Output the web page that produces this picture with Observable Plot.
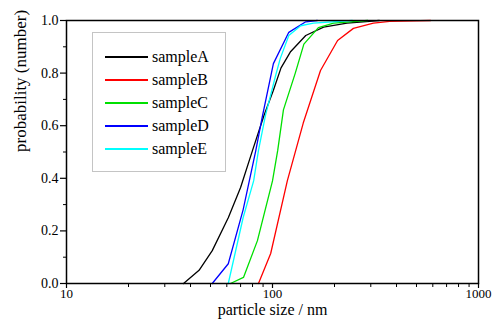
<!DOCTYPE html>
<html>
<head>
<meta charset="utf-8">
<script src="https://cdn.jsdelivr.net/npm/d3@7"></script>
<script src="https://cdn.jsdelivr.net/npm/@observablehq/plot@0.6"></script>
<style>
  body { margin: 0; background: #fff; }
  #wrap { position: relative; width: 495px; height: 325px; }
  #legend { position: absolute; left: 92px; top: 32px; width: 134px; height: 140px;
    border: 1.5px solid #c4c4c4; background: #fff; box-sizing: border-box;
    font-family: "Liberation Serif", "Times New Roman", "DejaVu Serif", serif; font-size: 16px; color: #000; }
  .row { position: absolute; left: 0; height: 20px; display: flex; align-items: center; }
  .sw { display: inline-block; width: 43px; height: 1.5px; margin-left: 12px; margin-right: 4px; }
</style>
</head>
<body>
<div id="wrap"></div>
<script>
const seriesNames = ["sampleA", "sampleB", "sampleC", "sampleD", "sampleE"];
const seriesColors = ["#000000", "#ff0000", "#00e000", "#0000ff", "#00ffff"];

const sampleA_x = [37, 44, 51, 61, 70, 80, 91, 101, 110, 122, 145, 177, 230, 330];
const sampleA_y = [0, 0.05, 0.125, 0.25, 0.365, 0.506, 0.64, 0.735, 0.82, 0.88, 0.943, 0.975, 0.99, 1.0];

const sampleB_x = [85.5, 98, 118, 141, 171, 207, 247, 309, 370, 585];
const sampleB_y = [0, 0.114, 0.39, 0.61, 0.81, 0.924, 0.97, 0.99, 0.997, 1.0];

const sampleC_x = [62.5, 72.3, 84.5, 100, 106, 113, 129, 142, 167, 198, 290];
const sampleC_y = [0, 0.023, 0.163, 0.39, 0.506, 0.66, 0.80, 0.91, 0.973, 0.99, 1.0];

const sampleD_x = [51, 61, 72, 83, 89, 101, 120, 145, 165];
const sampleD_y = [0, 0.075, 0.28, 0.506, 0.63, 0.836, 0.955, 0.995, 1.0];

const sampleE_x = [61, 72, 81, 85.5, 92.5, 103.5, 109, 120, 137, 158, 244];
const sampleE_y = [0, 0.25, 0.39, 0.506, 0.64, 0.79, 0.855, 0.943, 0.98, 0.99, 1.0];

const xMajorTicks = [10, 100, 1000];
const xMinorTicks = [20, 30, 40, 50, 60, 70, 80, 90, 200, 300, 400, 500, 600, 700, 800, 900];
const yMajorTicks = [0, 0.2, 0.4, 0.6, 0.8, 1.0];
const yMinorTicks = [0.1, 0.3, 0.5, 0.7, 0.9];

const xs = [sampleA_x, sampleB_x, sampleC_x, sampleD_x, sampleE_x];
const ys = [sampleA_y, sampleB_y, sampleC_y, sampleD_y, sampleE_y];

const lineMarks = seriesNames.map((name, i) =>
  Plot.line(xs[i].map((x, j) => ({x, y: ys[i][j]})), {
    x: "x", y: "y", stroke: seriesColors[i], strokeWidth: 1.3, curve: "linear"
  })
);

const serif = "'Liberation Serif', 'Times New Roman', 'DejaVu Serif', serif";

const chart = Plot.plot({
  width: 495,
  height: 325,
  marginLeft: 66,
  marginRight: 17,
  marginTop: 20,
  marginBottom: 42,
  style: { fontFamily: serif, fontSize: "14px", color: "#000", background: "#fff" },
  x: { type: "log", domain: [10, 1000] },
  y: { domain: [0, 1] },
  marks: [
    ...lineMarks,
    Plot.frame({ stroke: "#000", strokeWidth: 1.5 }),
    Plot.axisX({ ticks: xMajorTicks, tickFormat: d => String(d), tickSize: 5, tickPadding: 0, label: null, strokeWidth: 1.2, fontSize: 13 }),
    Plot.axisX({ ticks: xMinorTicks, tickSize: 4, text: null, label: null, strokeWidth: 1 }),
    Plot.axisY({ ticks: yMajorTicks, tickFormat: d3.format(".1f"), tickSize: 6, tickPadding: 2, label: null, strokeWidth: 1.2, fontSize: 14 }),
    Plot.axisY({ ticks: yMinorTicks, tickSize: 3, text: null, label: null, strokeWidth: 1 }),
    Plot.text(["particle size / nm"], { frameAnchor: "bottom", dy: 31, fontSize: 16, text: d => d }),
    Plot.text(["probability (number)"], { frameAnchor: "left", dx: -46, rotate: -90, fontSize: 17, text: d => d })
  ]
});

const wrap = document.getElementById("wrap");
wrap.appendChild(chart);

const legend = document.createElement("div");
legend.id = "legend";
seriesNames.forEach((name, i) => {
  const row = document.createElement("div");
  row.className = "row";
  row.style.top = (14 + i * 23) + "px";
  const sw = document.createElement("span");
  sw.className = "sw";
  sw.style.background = seriesColors[i];
  const label = document.createElement("span");
  label.textContent = name;
  row.appendChild(sw);
  row.appendChild(label);
  legend.appendChild(row);
});
wrap.appendChild(legend);
</script>
</body>
</html>
